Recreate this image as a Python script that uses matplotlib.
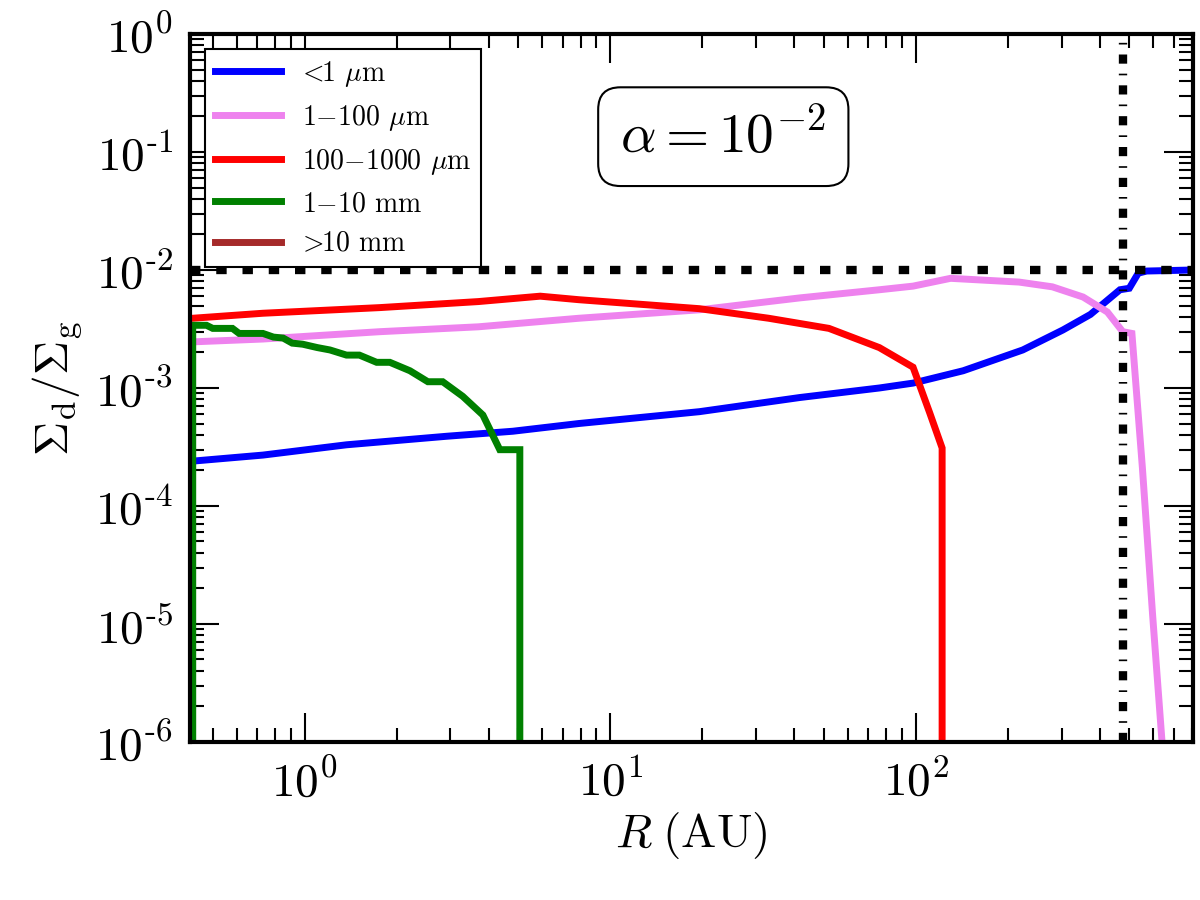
import matplotlib
matplotlib.use("Agg")
import matplotlib.pyplot as plt
from matplotlib.ticker import LogLocator, FuncFormatter, NullFormatter

plt.rcParams["mathtext.fontset"] = "cm"
plt.rcParams["font.family"] = "serif"
plt.rcParams["font.serif"] = ["cmr10", "DejaVu Serif"]
plt.rcParams["axes.formatter.use_mathtext"] = True

# <1 micron
blue_r = [0.43, 0.73, 1.37, 2.92, 4.8, 7.9, 19.6, 41.7, 76, 98, 143, 224, 303, 373, 466, 500, 535, 570, 807]
blue_v = [2.4e-4, 2.7e-4, 3.3e-4, 3.9e-4, 4.3e-4, 5.0e-4, 6.3e-4, 8.3e-4, 1.0e-3, 1.1e-3, 1.4e-3,
          2.1e-3, 3.1e-3, 4.2e-3, 6.8e-3, 7.0e-3, 9.4e-3, 9.8e-3, 1.0e-2]

# 1-100 micron
pink_r = [0.43, 0.73, 1.76, 3.7, 7.9, 19.6, 41.7, 76, 98, 130, 218, 280, 353, 424, 476, 510, 552, 596, 640, 660]
pink_v = [2.46e-3, 2.6e-3, 3.0e-3, 3.3e-3, 3.9e-3, 4.6e-3, 5.8e-3, 6.8e-3, 7.3e-3, 8.5e-3, 7.9e-3,
          7.2e-3, 5.9e-3, 4.4e-3, 3.0e-3, 2.9e-3, 2.1e-4, 1.2e-5, 1.0e-6, 1e-7]

# 100-1000 micron
red_r = [0.43, 0.73, 1.76, 3.7, 5.9, 7.9, 19.6, 33, 52, 76, 98, 111, 122, 122]
red_v = [3.9e-3, 4.3e-3, 4.8e-3, 5.4e-3, 6.0e-3, 5.6e-3, 4.7e-3, 3.9e-3, 3.2e-3, 2.2e-3, 1.5e-3,
         6.2e-4, 3.1e-4, 1e-8]

# 1-10 mm
green_r = [0.43, 0.43, 0.477, 0.50, 0.58, 0.61, 0.73, 0.79, 0.85, 0.91, 0.985, 1.10, 1.21, 1.37, 1.51,
           1.72, 1.90, 2.21, 2.53, 2.83, 3.29, 3.83, 4.35, 5.06, 5.06]
green_v = [1e-8, 3.4e-3, 3.4e-3, 3.2e-3, 3.2e-3, 2.9e-3, 2.9e-3, 2.7e-3, 2.65e-3, 2.4e-3, 2.35e-3,
           2.2e-3, 2.1e-3, 1.9e-3, 1.9e-3, 1.65e-3, 1.65e-3, 1.4e-3, 1.13e-3, 1.13e-3, 8.5e-4,
           5.9e-4, 3.0e-4, 3.0e-4, 1e-8]

# >10 mm (nothing inside the plotted range)
brown_r = []
brown_v = []

labels = [r"$\!<\!\!$1 $\mu$m", r"1$-$100 $\mu$m", r"100$-$1000 $\mu$m", r"1$-$10 mm", r"$\!>\!\!$10 mm"]
colors = ["#0000ff", "violet", "#ff0000", "green", "brown"]

dust_to_gas = 1e-2
r_out = 476
alpha_text = r"$\alpha=10^{-2}$"

fig = plt.figure(figsize=(12, 9), dpi=100)
ax = fig.add_axes([0.158, 0.1756, 0.836, 0.7866])

series = [(blue_r, blue_v), (pink_r, pink_v), (red_r, red_v), (green_r, green_v), (brown_r, brown_v)]
for (r, v), lab, c in zip(series, labels, colors):
    ax.plot(r, v, color=c, lw=5, label=lab, solid_joinstyle="miter")

ax.axhline(dust_to_gas, color="k", lw=6, linestyle=(0, (1.25, 1.9)), dash_capstyle="butt")
ax.axvline(r_out, color="k", lw=6, linestyle=(0, (1.1, 1.2, 0.2, 1.2)), dash_capstyle="butt")

ax.set_xscale("log")
ax.set_yscale("log")
ax.set_xlim(0.42, 807)
ax.set_ylim(1e-6, 1)

ax.xaxis.set_major_locator(LogLocator(base=10, numticks=20))
ax.yaxis.set_major_locator(LogLocator(base=10, numticks=20))
ax.xaxis.set_minor_locator(LogLocator(base=10, subs=range(2, 10), numticks=50))
ax.yaxis.set_minor_locator(LogLocator(base=10, subs=range(2, 10), numticks=50))
ax.xaxis.set_minor_formatter(NullFormatter())
ax.yaxis.set_minor_formatter(NullFormatter())


def xfmt(val, pos):
    import math
    e = int(round(math.log10(val)))
    return r"$10^{%d}$" % e


def yfmt(val, pos):
    import math
    e = int(round(math.log10(val)))
    if e < 0:
        return r"$10^{\text{-}%d}$" % (-e)
    return r"$10^{%d}$" % e


ax.xaxis.set_major_formatter(FuncFormatter(xfmt))
ax.yaxis.set_major_formatter(FuncFormatter(yfmt))

for s in ax.spines.values():
    s.set_linewidth(3)
ax.tick_params(which="both", direction="in", top=True, right=True)
ax.tick_params(which="major", length=21, width=1.5, labelsize=34, pad=12)
ax.tick_params(which="minor", length=10, width=1.5)

ax.set_xlabel(r"$R\;(\mathrm{AU})$", fontsize=34, labelpad=4)
ax.set_ylabel(r"$\Sigma_{\rm d}/\Sigma_{\rm g}$", fontsize=34, labelpad=8)

ax.text(0.532, 0.855, alpha_text, transform=ax.transAxes, fontsize=40, ha="center", va="center",
        bbox=dict(boxstyle="round,pad=0.4", fc="white", ec="k", lw=1.5))

leg = ax.legend(loc="upper left", fontsize=20, frameon=True, fancybox=False, framealpha=1,
                edgecolor="k", handlelength=2.4, handletextpad=0.75, labelspacing=0.5,
                borderpad=0.35, borderaxespad=0.55)
leg.get_frame().set_linewidth(1.5)
leg.set_zorder(10)

fig.savefig("out.png", dpi=100, facecolor="white")
